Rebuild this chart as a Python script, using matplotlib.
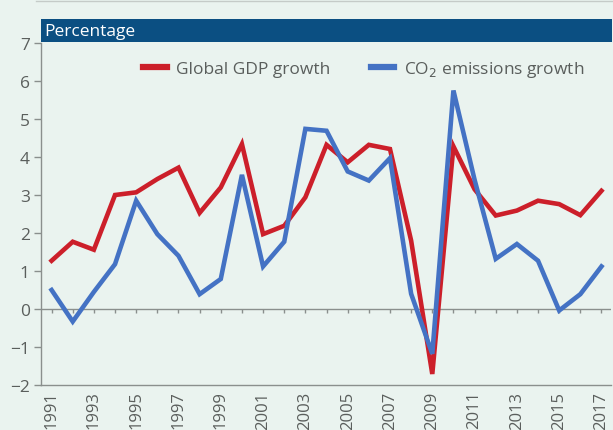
import matplotlib
matplotlib.use("Agg")
import matplotlib.pyplot as plt
from matplotlib.patches import Rectangle
from matplotlib.lines import Line2D

years = list(range(1991, 2018))
gdp_growth = [1.27, 1.77, 1.56, 3.00, 3.07, 3.42, 3.72, 2.53, 3.20, 4.34,
              1.97, 2.19, 2.94, 4.32, 3.86, 4.32, 4.21, 1.80, -1.71, 4.28,
              3.15, 2.46, 2.59, 2.85, 2.76, 2.47, 3.11]
co2_growth = [0.50, -0.33, 0.45, 1.18, 2.85, 1.97, 1.40, 0.39, 0.79, 3.53,
              1.12, 1.77, 4.74, 4.69, 3.62, 3.38, 3.97, 0.40, -1.18, 5.75,
              3.40, 1.32, 1.71, 1.27, -0.04, 0.39, 1.12]
label_years = list(range(1991, 2018, 2))

BG = "#eaf3ef"
RED = "#cc1f2a"
BLUE = "#4472c4"
NAVY = "#0b4f82"
GREY = "#8a8f8d"
TXT = "#5a5e5c"

plt.rcParams["font.family"] = ["Open Sans", "DejaVu Sans"]

fig = plt.figure(figsize=(6.13, 4.31), dpi=100, facecolor=BG)
W, H = 613, 431
ax = fig.add_axes([41 / W, (H - 386) / H, (611 - 41) / W, 342 / H])
ax.set_facecolor(BG)

ax.plot(years, gdp_growth, color=RED, lw=3.3, label="Global GDP growth",
        solid_joinstyle="miter", zorder=3)
ax.plot(years, co2_growth, color=BLUE, lw=3.3, label="CO$_2$ emissions growth",
        solid_joinstyle="miter", zorder=3)

# zero line with small year ticks
ax.axhline(0, color=GREY, lw=1, zorder=1)
ax.vlines(years, -0.11, 0, color=GREY, lw=1, zorder=1)

ax.set_xlim(1990.5, 2017.45)
ax.set_ylim(-2, 7)
ax.set_yticks(range(-2, 8))
ax.set_xticks(label_years)
ax.set_xticklabels([str(y) for y in label_years], rotation=90)
ax.tick_params(axis="x", length=0, pad=4, labelsize=12, labelcolor=TXT)
ax.tick_params(axis="y", length=5, width=1, color=GREY, pad=3,
               labelsize=12.5, labelcolor=TXT)

for side in ("top", "right"):
    ax.spines[side].set_visible(False)
for side in ("left", "bottom"):
    ax.spines[side].set_color(GREY)
    ax.spines[side].set_linewidth(1)

leg = ax.legend(loc="upper right", ncol=2, frameon=False, fontsize=12.5,
                handlelength=1.35, columnspacing=2.3, handletextpad=0.55,
                bbox_to_anchor=(0.98, 1.0))
for t in leg.get_texts():
    t.set_color(TXT)
for h in leg.get_lines():
    h.set_linewidth(4.5)

# header bar
fig.patches.append(Rectangle((41 / W, (H - 43) / H), (612 - 41) / W, 23 / H,
                             transform=fig.transFigure, facecolor=NAVY,
                             edgecolor="none"))
fig.text(44 / W, (H - 31.5) / H, "Percentage", color="white", fontsize=12.5,
         va="center", ha="left")
fig.lines.append(Line2D([36 / W, 1], [(H - 2) / H] * 2, transform=fig.transFigure,
                        color="#c5cbc8", lw=1))

fig.savefig("out.png", dpi=100, facecolor=BG)
